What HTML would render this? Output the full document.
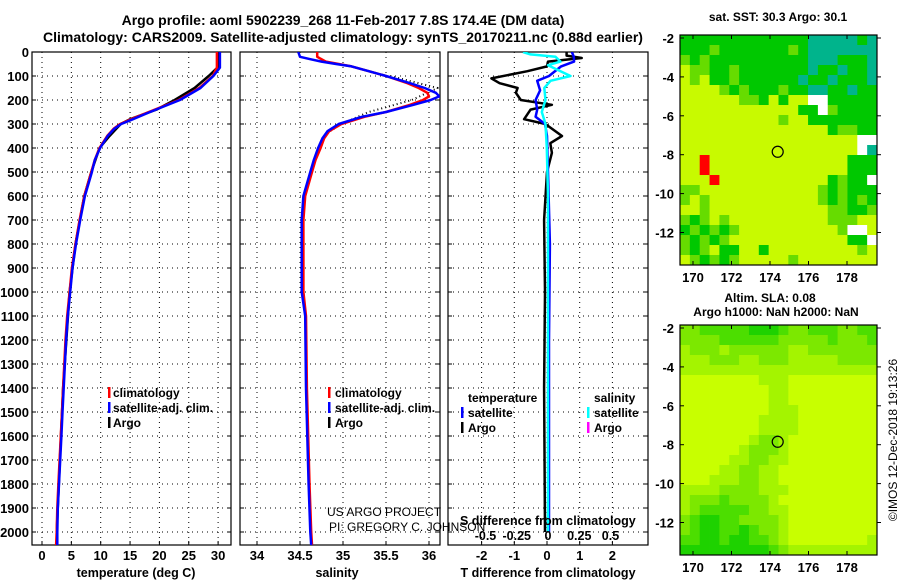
<!DOCTYPE html>
<html><head><meta charset="utf-8"><style>
html,body{margin:0;padding:0;background:#fff}
svg{display:block;font-family:"Liberation Sans",Arial,sans-serif}
</style></head><body>
<svg id="s" width="900" height="580" viewBox="0 0 900 580" xmlns="http://www.w3.org/2000/svg">
<text x="343" y="25" font-size="14" font-weight="bold" text-anchor="middle">Argo profile: aoml 5902239_268 11-Feb-2017 7.8S 174.4E (DM data)</text>
<text x="343" y="42" font-size="14" font-weight="bold" text-anchor="middle">Climatology: CARS2009. Satellite-adjusted climatology: synTS_20170211.nc (0.88d earlier)</text>
<g id="g"></g>
</svg>
<script>
// ---- data ----
const depthTicks=[0,100,200,300,400,500,600,700,800,900,1000,1100,1200,1300,1400,1500,1600,1700,1800,1900,2000];
const tempTicks=[0,5,10,15,20,25,30];
const salTicks=[34,34.5,35,35.5,36];
const salTickLabels=["34","34.5","35","35.5","36"];
const tdTicks=[-2,-1,0,1,2];
const sdTicks=[-0.5,-0.25,0,0.25,0.5];
const sdTickLabels=["-0.5","-0.25","0","0.25","0.5"];
const tDepth=[0,65,100,150,200,250,280,300,320,350,400,450,500,600,700,800,900,1000,1100,1200,1300,1400,1500,1600,1700,1800,1900,2000,2054];
const tClim=[29.8,29.8,29.1,26.8,23.3,18.2,15.2,13.3,12.2,11.1,9.8,9.0,8.4,7.2,6.4,5.7,5.1,4.7,4.3,4.0,3.8,3.6,3.4,3.2,3.0,2.8,2.6,2.5,2.4];
const tSat=[30.3,30.3,29.2,27.0,23.5,18.4,15.5,13.5,12.3,11.2,9.9,9.0,8.5,7.3,6.5,5.8,5.2,4.8,4.4,4.1,3.9,3.7,3.5,3.3,3.1,2.9,2.7,2.6,2.6];
const tArgoDepth=[0,60,100,150,200,240,280,300,350,400,500,600,800,1000,1400,2000];
const tArgo=[30.2,30.1,28.4,26.0,22.6,19.5,15.0,13.4,11.5,9.8,8.4,7.2,5.7,4.7,3.6,2.5];
const sDepth=[0,20,30,40,50,60,80,100,130,150,170,185,200,220,250,270,300,330,360,400,450,500,600,700,1000,1100,1400,1800,2000,2054];
const sClim=[34.7,34.7,34.75,34.8,34.95,35.1,35.3,35.5,35.75,35.88,35.98,36.0,35.93,35.78,35.5,35.25,34.98,34.84,34.78,34.74,34.68,34.64,34.56,34.54,34.54,34.57,34.58,34.61,34.63,34.64];
const sSat=[34.48,34.5,34.62,34.75,34.92,35.1,35.3,35.5,35.78,35.95,36.08,36.12,36.02,35.82,35.5,35.22,34.95,34.82,34.76,34.71,34.66,34.62,34.54,34.52,34.52,34.56,34.57,34.6,34.62,34.63];
const sArgoDepth=[100,150,200,250,300,330];
const sArgo=[35.55,36.1,35.8,35.3,34.98,34.85];
const dtDepth=[0,15,25,40,60,80,110,130,150,170,200,220,240,280,300,350,380,420,500,700,1000,1400,2000];
const dtArgo=[0.6,0.6,1.06,0.03,0.0,-0.6,-1.7,-1.45,-0.9,-0.95,-0.8,0.15,-0.5,-0.7,-0.05,0.46,0.1,0.15,0.0,-0.09,-0.06,-0.09,-0.06];
const dtSatDepth=[0,20,40,60,100,120,160,200,240,270,300,350,500,800,1200,2000];
const dtSat=[0.76,0.82,0.83,0.43,0.06,-0.3,-0.21,-0.35,-0.3,-0.35,-0.06,0.0,0.03,0.09,0.06,0.06];
const dsDepth=[0,10,20,40,55,80,100,120,150,200,250,300,400,600,1000,2000];
const dsSat=[-0.2,-0.14,0.06,0.1,0.0,0.1,0.18,0.02,-0.03,-0.02,-0.05,-0.02,-0.01,0.0,0.0,0.0];
const lonTicks=[170,172,174,176,178];
const latTicks=[-2,-4,-6,-8,-10,-12];
const sstGrid=["gggggggggggggtttttgt","gggmgggggggmgttttttt","mgmggggggggggtttgggt","ymmggmgggggggtggtggt","ymyggmggggggtggtgggt","yyyymgmgggmggttggtgg","yyyyyymmgygyywwggggg","yyyyyyyyyyyyggwmgggg","yyyyyyyyyymyyggggggg","yyyyyyyyyyyyyyygmmgg","yyyyyyyyyyyyyyyyyyww","yyyyyyyyyyyyyyyyyywt","yyryyyyyyyyyyyyyyggg","yyryyyyyyyyyyyyyyggg","yyyryyyyyyyyyyygmggw","mmyyyyyyyyyyyymgmggg","mymyyyyyyyyyyymgmgmg","yymyyyyyyyyyyyymmggm","mgmymyyyyyyyyyymmmyy","gmgmgmyyyyyyyyyymwwy","mgmgmyyyyyyyyyyyyggw","mgmyggyygyyyyyyyyymy","ymgmgmyyyyymyyyyyyyy"];
const slaGrid=["22333334443223332233","22223333332222232223","12221222222112222222","11122211222111112222","11111111111111111111","00000000111000000000","00000000011000000000","00000000011000000000","00000000011100000000","00000000111100000000","00000000111100000000","00000001221000000000","00000012221000000000","00000112211000000000","00001122110000000000","00011122110000000000","11112222111000000000","12223222210000000000","12333332211000000000","23443322221000000000","23443343221000000000","33443443321000000001","44444444432111111111"];
const argoLon=174.4, argoLat=-7.85;
// ---- helpers ----
const NS="http://www.w3.org/2000/svg";const G=document.getElementById('g');
function el(t,a,p){const e=document.createElementNS(NS,t);for(const k in a)e.setAttribute(k,a[k]);(p||G).appendChild(e);return e;}
const yD=d=>52+d*0.24;
const PT=52,PB=545;
const xT=t=>42+t*5.87;
const xS=s=>257+(s-34)*86;
const xDT=v=>547+v*32.7;
const xDS=v=>548+v*125;
function panel(x0,x1,name,xticks,xf,labels,ylab){
  const f=el('rect',{x:x0,y:PT,width:x1-x0,height:PB-PT,fill:'none',stroke:'#000','stroke-width':1.2});
  
  
  depthTicks.forEach(d=>{const y=yD(d);
    const l=el('line',{x1:x0,x2:x1,y1:y,y2:y,stroke:'#000','stroke-dasharray':'1 4','stroke-width':1});
    
    
    el('line',{x1:x0,x2:x0+4,y1:y,y2:y,stroke:'#000'});el('line',{x1:x1-4,x2:x1,y1:y,y2:y,stroke:'#000'});
    if(ylab){const t=el('text',{x:29,y:y+5,'font-size':13,'font-weight':'bold','text-anchor':'end'});t.textContent=d;
    
    }
  });
  xticks.forEach((v,i)=>{const x=xf(v);
    const l=el('line',{x1:x,x2:x,y1:PT,y2:PB,stroke:'#000','stroke-dasharray':'1 4'});
    
    
    el('line',{x1:x,x2:x,y1:PB-4,y2:PB,stroke:'#000'});
    if(labels){const t=el('text',{x:x,y:560,'font-size':13,'font-weight':'bold','text-anchor':'middle'});t.textContent=labels[i];
    
    }
  });
}
function txt(x,y,s,sz,name,opt){const a=Object.assign({x:x,y:y,'font-size':sz,'font-weight':'bold'},opt||{});const t=el('text',a);t.textContent=s;
  
  return t;}
function mark(x,y,c){el('rect',{x:x,y:y-10,width:2.5,height:11,fill:c});}
panel(32,231,'temperature',tempTicks,xT,tempTicks.map(String),true);
panel(240,440,'salinity',salTicks,xS,salTickLabels,false);
panel(448,648,'difference',tdTicks,xDT,tdTicks.map(String),false);
const defs=el('defs',{});
[['cp1',32,231],['cp2',240,440],['cp3',448,648]].forEach(c=>{const cp=el('clipPath',{id:c[0]},defs);el('rect',{x:c[1],y:PT,width:c[2]-c[1],height:PB-PT},cp);});
const g1=el('g',{'clip-path':'url(#cp1)'});const g2=el('g',{'clip-path':'url(#cp2)'});const g3=el('g',{'clip-path':'url(#cp3)'});
function line2(g,ds,vs,xf,col,w,name,dash){const pts=ds.map((d,i)=>xf(vs[i]).toFixed(1)+','+yD(d).toFixed(1)).join(' ');
  const a={points:pts,fill:'none',stroke:col,'stroke-width':w,'stroke-linejoin':'round'};if(dash)a['stroke-dasharray']=dash;
  const p=el('polyline',a,g);
  
  }
line2(g1,tArgoDepth,tArgo,xT,'#000',2.5,'temp-argo-line');
line2(g1,tDepth,tClim,xT,'#f00',2.5,'temp-climatology-line');
line2(g1,tDepth,tSat,xT,'#00f',2.5,'temp-satellite-line');
line2(g2,sArgoDepth,sArgo,xS,'#000',2,'sal-argo-line','1 3');
line2(g2,sDepth,sClim,xS,'#f00',2.5,'sal-climatology-line');
line2(g2,sDepth,sSat,xS,'#00f',2.5,'sal-satellite-line');
line2(g3,dtDepth,dtArgo,xDT,'#000',2.5,'tdiff-argo-line');
line2(g3,dtSatDepth,dtSat,xDT,'#00f',2.5,'tdiff-satellite-line');
line2(g3,dsDepth,dsSat,xDS,'#0ff',2.5,'sdiff-satellite-line');
mark(108,397,'#f00');txt(113,397,'climatology',12,'legend-climatology');
mark(108,412,'#00f');txt(113,412,'satellite-adj. clim.',12,'legend-satellite-adj');
mark(108,427,'#000');txt(113,427,'Argo',12,'legend-argo');
mark(328,397,'#f00');txt(335,397,'climatology',12,'legend-sal-climatology');
mark(328,412,'#00f');txt(335,412,'satellite-adj. clim.',12,'legend-sal-satellite-adj');
mark(328,427,'#000');txt(335,427,'Argo',12,'legend-sal-argo');
txt(468,402,'temperature',12,'legend-temperature-heading');
mark(461,417,'#00f');txt(468,417,'satellite',12,'legend-t-satellite');
mark(461,432,'#000');txt(468,432,'Argo',12,'legend-t-argo');
txt(594,402,'salinity',12,'legend-salinity-heading');
mark(587,417,'#0ff');txt(594,417,'satellite',12,'legend-s-satellite');
mark(587,432,'#f0f');txt(594,432,'Argo',12,'legend-s-argo');
txt(327,516,'US ARGO PROJECT',12,'project-label',{'font-weight':'normal'});
txt(329,531,'PI: GREGORY C. JOHNSON',12,'pi-label',{'font-weight':'normal'});
txt(460,525,'S difference from climatology',12.5,'s-diff-axis-title');
sdTicks.forEach((v,i)=>{txt(xDS(v),540,sdTickLabels[i],12.5,'s-diff-tick-label',{'text-anchor':'middle'});});
txt(136,577,'temperature (deg C)',12.5,'temperature-axis-title',{'text-anchor':'middle'});
txt(337,577,'salinity',12.5,'salinity-axis-title',{'text-anchor':'middle'});
txt(548,577,'T difference from climatology',12.5,'t-diff-axis-title',{'text-anchor':'middle'});
const SST_COL={y:'#c8fa00',g:'#00c800',m:'#66dc00',t:'#00b48c',w:'#ffffff',r:'#ff0000'};
const SLA_COL=['#c8ff00','#a4f400','#7ce800','#4cde00','#1ed200'];
function map(top,bot,grid,colf,name){
  const L=680,R=877,lat0=top+3;const px=19.25,py=19.45;
  const xL=lo=>693+(lo-170)*px, yL=la=>lat0+(-2-la)*py;
  const rows=grid.length,cols=grid[0].length,cw=(R-L)/cols,ch=(bot-top)/rows;
  grid.forEach((r,ri)=>{for(let ci=0;ci<cols;ci++){const c=el('rect',{x:(L+ci*cw).toFixed(2),y:(top+ri*ch).toFixed(2),width:(cw+0.4).toFixed(2),height:(ch+0.4).toFixed(2),fill:colf(r[ci])});
    
    }});
  const f=el('rect',{x:L,y:top,width:R-L,height:bot-top,fill:'none',stroke:'#000','stroke-width':1.2});
  
  
  lonTicks.forEach(v=>{const x=xL(v);el('line',{x1:x,x2:x,y1:bot-4,y2:bot,stroke:'#000'});el('line',{x1:x,x2:x,y1:top,y2:top+4,stroke:'#000'});
    txt(x,bot+17,String(v),13,name+'-lon-label',{'text-anchor':'middle'});});
  latTicks.forEach(v=>{const y=yL(v);el('line',{x1:L,x2:L+4,y1:y,y2:y,stroke:'#000'});el('line',{x1:R,x2:R+4,y1:y,y2:y,stroke:'#000'});
    txt(674,y+5,String(v),13,name+'-lat-label',{'text-anchor':'end'});});
  const c=el('circle',{cx:xL(argoLon),cy:yL(argoLat),r:5.5,fill:'none',stroke:'#000','stroke-width':1.2});
  
  
}
map(35,265,sstGrid,k=>SST_COL[k],'sst-map');
map(325,555,slaGrid,k=>SLA_COL[+k],'sla-map');
txt(778,21,'sat. SST: 30.3 Argo: 30.1',12,'sst-map-title',{'text-anchor':'middle'});
txt(770,302,'Altim. SLA: 0.08',12,'sla-map-title',{'text-anchor':'middle'});
txt(776,316,'Argo h1000: NaN h2000: NaN',12,'sla-map-subtitle',{'text-anchor':'middle'});
txt(897,440,'©IMOS 12-Dec-2018 19:13:26',12,'imos-credit',{'font-weight':'normal','text-anchor':'middle',transform:'rotate(-90 897 440)'});
</script>
</body></html>
